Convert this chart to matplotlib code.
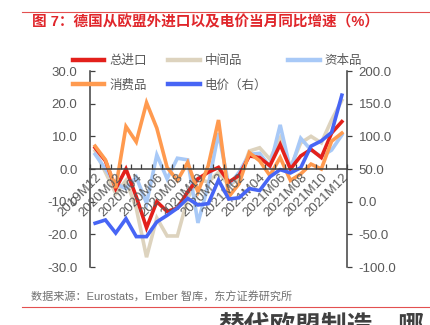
import matplotlib

matplotlib.use("Agg")
import matplotlib.pyplot as plt
from matplotlib.lines import Line2D
import numpy as np

plt.rcParams["font.family"] = ["Liberation Sans", "Noto Sans CJK SC", "DejaVu Sans"]

months = [
    "2019M12", "2020M01", "2020M02", "2020M03", "2020M04", "2020M05", "2020M06",
    "2020M07", "2020M08", "2020M09", "2020M10", "2020M11", "2020M12", "2021M01",
    "2021M02", "2021M03", "2021M04", "2021M05", "2021M06", "2021M07", "2021M08",
    "2021M09", "2021M10", "2021M11", "2021M12",
]
total = [6.5, 2.5, -6, 0, -8.5, -18, -10, -13, -12, -7, -3, -1, 0.5, -4, -2,
         4, 3.5, 1, 7.5, 0, 4, 6, 3.5, 11, 14.5]
intermediate = [5.5, -1, -7.5, -3.5, -12, -27, -15, -20.5, -20.5, -9, -3, -4, -1, -5, -3,
                5.5, 6.5, 3, 9.5, 0.5, 8, 10, 8, 15, 21]
capital = [4.5, 0, -4.5, -6, -2.5, -10.5, 4.3, -3, 3.3, 2.8, -16.5, -5, 11, -5, -1,
           4.5, 4.8, 0.7, 13.5, -0.3, 9.4, 5.8, 3.8, 5.8, 10.4]
consumer = [7, 2.8, -5.8, 13, 8.3, 20.3, 12.5, 0.5, -3.5, 2, -7, 1, 15, -8.5, -4.5,
            5, 2.5, -2, 3.5, -3.5, -1.5, 1.5, 0, 8.5, 11]
price = [-33, -28, -48, -26, -53.5, -53.5, -31, -21, -10, 5, -5, -3, 33, 4, 6,
         20, 17, 38, 49, 44, 52, 85, 93, 106, 163]

left_ticks = [30, 20, 10, 0, -10, -20, -30]
right_ticks = [200, 150, 100, 50, 0, -50, -100]

GRAY = "#595959"
SPINE = "#404040"
C_TOTAL = "#E3201B"
C_INTER = "#DDD3BE"
C_CAP = "#A8C9F7"
C_CONS = "#FF9A4F"
C_PRICE = "#4765F5"

fig = plt.figure(figsize=(4.31, 3.25), dpi=100)
ax = fig.add_axes([90 / 431, 1 - 267 / 325, 257 / 431, 196 / 325])
ax2 = ax.twinx()

# spines first: moving a spine resets the axis ticks.
# the zero line / month axis lives on ax2 (right-axis 50 == left-axis 0)
# so that its labels are drawn above every line.
for a in (ax, ax2):
    a.spines["top"].set_visible(False)
    a.set_facecolor("none")
ax.spines["right"].set_visible(False)
ax.spines["bottom"].set_visible(False)
ax2.spines["left"].set_visible(False)
ax2.xaxis.set_visible(True)
ax2.spines["bottom"].set_visible(True)
ax2.spines["bottom"].set_position(("data", 50))
for sp in (ax.spines["left"], ax2.spines["bottom"], ax2.spines["right"]):
    sp.set_color(SPINE)
    sp.set_linewidth(1.1)

x = np.arange(len(months))
lw = 2.6
ax.plot(x, intermediate, color=C_INTER, lw=lw, solid_joinstyle="miter", label="中间品")
ax.plot(x, capital, color=C_CAP, lw=lw, solid_joinstyle="miter", label="资本品")
ax.plot(x, total, color=C_TOTAL, lw=lw, solid_joinstyle="miter", label="总进口")
ax.plot(x, consumer, color=C_CONS, lw=lw, solid_joinstyle="miter", label="消费品")
ax2.plot(x, price, color=C_PRICE, lw=lw, solid_joinstyle="miter", label="电价（右）")

ax.set_xlim(-0.5, len(months) - 0.5)
ax.set_ylim(-30, 30)
ax2.set_ylim(-100, 200)

ax.set_yticks(left_ticks)
ax.set_yticklabels([f"{v:.1f}" for v in left_ticks])
ax2.set_yticks(right_ticks)
ax2.set_yticklabels([f"{v:.1f}" for v in right_ticks])

ax.tick_params(axis="x", which="both", bottom=False, labelbottom=False)
ax2.set_xticks(x[::2])
ax2.set_xticklabels(months[::2])
ax2.set_xticks(np.arange(len(months) + 1) - 0.5, minor=True)
ax2.tick_params(axis="x", which="major", bottom=True, labelbottom=True, length=0,
                pad=2, labelcolor=GRAY, labelsize=9.5, labelrotation=45)
ax2.tick_params(axis="x", which="minor", bottom=True, direction="in", length=3.5,
                width=0.9, color=SPINE)
for lab in ax2.get_xticklabels():
    lab.set_rotation_mode("anchor")
    lab.set_ha("right")
    lab.set_va("top")

ax.tick_params(axis="y", direction="in", length=3.5, width=0.9, color=SPINE,
               labelcolor=GRAY, labelsize=9.5, pad=9)
ax2.tick_params(axis="y", direction="out", length=3.5, width=0.9, color=SPINE,
                labelcolor=GRAY, labelsize=9.5, pad=5)

handles = [
    Line2D([], [], color=C_TOTAL, lw=3.2, label="总进口"),
    Line2D([], [], color=C_CONS, lw=3.2, label="消费品"),
    Line2D([], [], color=C_INTER, lw=3.2, label="中间品"),
    Line2D([], [], color=C_PRICE, lw=3.2, label="电价（右）"),
    Line2D([], [], color=C_CAP, lw=3.2, label="资本品"),
]
leg = fig.legend(handles=handles, ncol=3, loc="upper left",
                 bbox_to_anchor=(62 / 431, 1 - 44 / 325), frameon=False,
                 fontsize=9, handlelength=2.5, handletextpad=0.4,
                 columnspacing=1.7, labelspacing=0.95)
for t in leg.get_texts():
    t.set_color(GRAY)

# header / footer decorations
fig.add_artist(Line2D([22 / 431, 1], [1 - 12 / 325, 1 - 12 / 325],
                      color="#E35050", lw=0.8))
fig.text(32 / 431, 1 - 22 / 325, "图 7：德国从欧盟外进口以及电价当月同比增速（%）",
         color="#E0262B", fontsize=10.5, fontweight="bold", va="center", ha="left")
fig.text(31 / 431, 1 - 297 / 325, "数据来源：Eurostats，Ember 智库，东方证券研究所",
         color="#707070", fontsize=8, va="center", ha="left")
fig.add_artist(Line2D([22 / 431, 1], [1 - 307 / 325, 1 - 307 / 325],
                      color="#E35050", lw=0.8))
fig.text(218 / 431, 1 - 314 / 325, "替代欧盟制造，哪", color="#404040",
         fontsize=18.5, fontweight="bold", va="top", ha="left")

fig.savefig("out.png", dpi=100)
